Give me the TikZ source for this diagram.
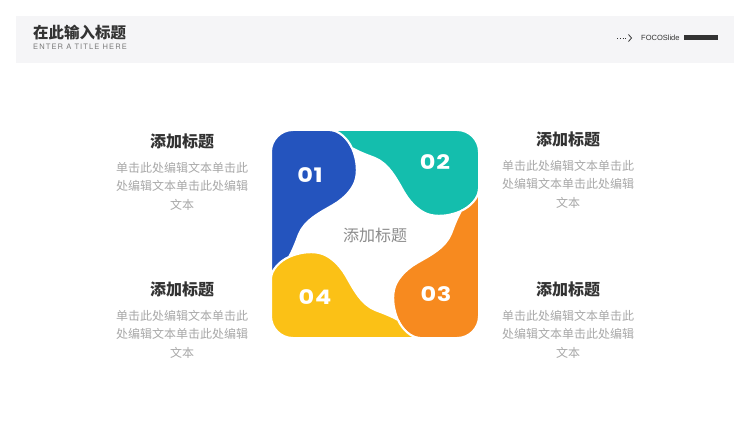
\documentclass[tikz,border=0pt]{standalone}
\usepackage{fontspec}
\setmainfont{Liberation Sans}
\newfontfamily\cjk{Noto Sans CJK SC}
\newfontfamily\numfont{Poppins}
\newfontfamily\latfont{TeX Gyre Heros}
\usetikzlibrary{positioning}
\definecolor{hdbg}{HTML}{F5F5F7}
\definecolor{pBlue}{HTML}{2454BE}
\definecolor{pTeal}{HTML}{14BEAD}
\definecolor{pOrange}{HTML}{F78A1F}
\definecolor{pYellow}{HTML}{FBC116}
\definecolor{ink}{HTML}{333333}
\definecolor{subgray}{HTML}{7A7A7A}
\definecolor{txtgray}{HTML}{A8A8A8}
\definecolor{ctrgray}{HTML}{8C8C8C}
% one petal, y up, centre of the square at the origin
\newcommand\petalpath{(-104,-45) -- (-104,82) .. controls (-104,94.15) and (-94.15,104) .. (-82,104)
  -- (-45,104) .. controls (-36,104) and (-27,95) .. (-23,86)
  .. controls (-19,77) and (-17,66) .. (-19,56)
  .. controls (-21,46) and (-30,36) .. (-42,29)
  .. controls (-56,21) and (-70,14) .. (-76,0)
  .. controls (-79,-8) and (-82,-16) .. (-86,-23)
  .. controls (-95,-27) and (-104,-36) .. (-104,-45) -- cycle}

\begin{document}
\begin{tikzpicture}[x=1pt,y=-1pt]
\tikzset{petal/.style={fill=#1, draw=white, line width=2pt, line join=round},
  numlbl/.style={font=\numfont\bfseries\fontsize{20}{20}\selectfont\addfontfeatures{LetterSpace=3}, text=white, inner sep=0pt, xscale=1.2},
  ttl/.style={font=\cjk\bfseries\fontsize{16}{16}\selectfont, text=ink, inner sep=0pt},
  body/.style={font=\cjk\fontsize{12}{18.5}\selectfont, text=txtgray, align=center, inner sep=0pt}
}
\useasboundingbox (0,0) rectangle (750,422);
\fill[white] (0,0) rectangle (750,422);

% header
\fill[hdbg] (16,16) rectangle (734,63);
\node[anchor=west, inner sep=0pt, font=\cjk\bfseries\fontsize{15.5}{15.5}\selectfont, text=ink] (hdtitle) at (33,33) {在此输入标题};
\node[anchor=west, inner sep=0pt, font=\latfont\fontsize{7.5}{7.5}\selectfont\addfontfeatures{LetterSpace=15}, text=subgray] (hdsub) at (33,47) {ENTER A TITLE HERE};
\node[anchor=west, inner sep=0pt, font=\fontsize{7.5}{7.5}\selectfont, text=ink] (brand) at (641,38) {FOCOSlide};
\draw[ink, dotted, line width=0.8pt] (617,38) -- (628,38);
\draw[ink, line width=0.8pt] (628.5,34.5) -- (631.5,38) -- (628.5,41.5);
\fill[ink] (684,35.5) rectangle (718,40.5);

% petals
\foreach \c [count=\i from 0] in {pBlue,pTeal,pOrange,pYellow}{
  \begin{scope}[shift={(375,234)}, yscale=-1, rotate=90*\i]
    \path[petal=\c] \petalpath;
  \end{scope}
}
\node[numlbl] (n1) at (310,175) {01};
\node[numlbl] (n2) at (435,162) {02};
\node[numlbl] (n3) at (436,294) {03};
\node[numlbl] (n4) at (315,297) {04};
\node[font=\cjk\fontsize{16}{16}\selectfont, text=ctrgray, inner sep=0pt] (ctr) at (375,235) {添加标题};

% text blocks
\node[ttl] (ttlA) at (182,141) {添加标题};
\node[body, below=13pt of ttlA] (bodyA) {单击此处编辑文本单击此\\处编辑文本单击此处编辑\\文本};
\node[ttl] (ttlB) at (568,139) {添加标题};
\node[body, below=13pt of ttlB] (bodyB) {单击此处编辑文本单击此\\处编辑文本单击此处编辑\\文本};
\node[ttl] (ttlC) at (182,289) {添加标题};
\node[body, below=13pt of ttlC] (bodyC) {单击此处编辑文本单击此\\处编辑文本单击此处编辑\\文本};
\node[ttl] (ttlD) at (568,289) {添加标题};
\node[body, below=13pt of ttlD] (bodyD) {单击此处编辑文本单击此\\处编辑文本单击此处编辑\\文本};
\end{tikzpicture}
\end{document}
